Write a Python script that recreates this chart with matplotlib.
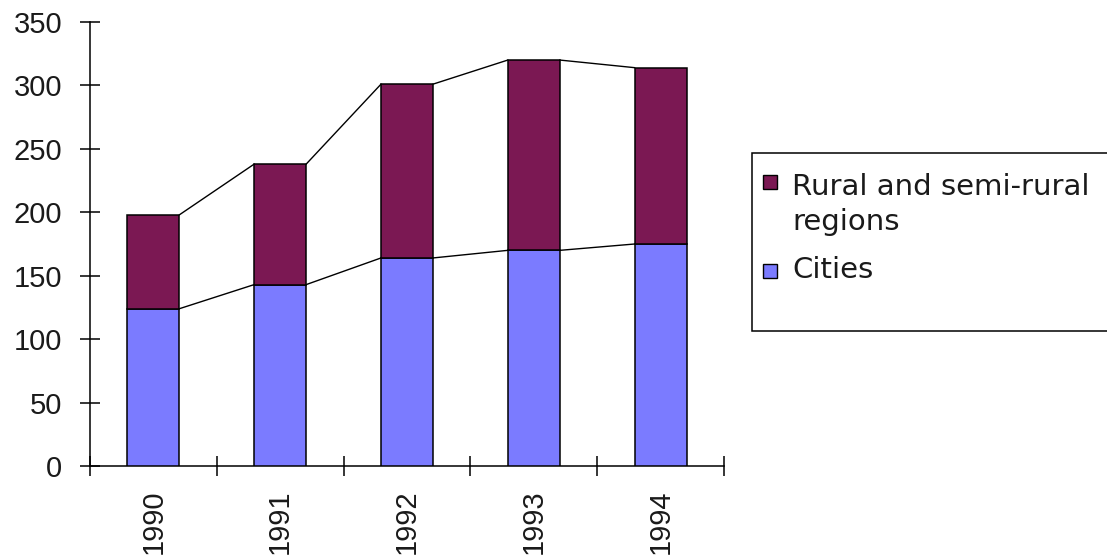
import matplotlib
matplotlib.use("Agg")
import matplotlib.pyplot as plt
from matplotlib.patches import Rectangle
import numpy as np

# Data
years = ["1990", "1991", "1992", "1993", "1994"]
cities = [124, 143, 164, 170, 175]
rural = [74, 95, 137, 150, 139]
series_labels = ["Rural and semi-rural\nregions", "Cities"]

rural_color = "#7b1853"
cities_color = "#7b7bff"
text_color = "#1a1a1a"

W, H = 1107, 558
fig = plt.figure(figsize=(W / 100, H / 100), dpi=100)
ax = fig.add_axes([90 / W, (H - 466) / H, (724 - 90) / W, (466 - 22) / H])

x = np.arange(len(years))
bw = 0.41
cities_arr = np.array(cities)
rural_arr = np.array(rural)
totals = cities_arr + rural_arr

ax.bar(x, cities_arr, width=bw, color=cities_color, edgecolor="black",
       linewidth=1.1, zorder=3)
ax.bar(x, rural_arr, width=bw, bottom=cities_arr, color=rural_color,
       edgecolor="black", linewidth=1.1, zorder=3)

# Series lines joining the tops of adjacent stacked segments
for level in (cities_arr, totals):
    for i in range(len(x) - 1):
        ax.plot([x[i] + bw / 2, x[i + 1] - bw / 2], [level[i], level[i + 1]],
                color="black", linewidth=1.0, zorder=2)

ax.set_xlim(-0.5, len(years) - 0.5)
ax.set_ylim(0, 350)

for side in ("top", "right"):
    ax.spines[side].set_visible(False)
for side in ("left", "bottom"):
    ax.spines[side].set_linewidth(1.1)
    ax.spines[side].set_color("black")

ax.set_yticks(np.arange(0, 351, 50))
ax.tick_params(axis="y", direction="inout", length=14.4, width=1.1,
               pad=12.8, labelsize=21, labelcolor=text_color)
for lbl in ax.get_yticklabels():
    lbl.set_fontfamily("Liberation Sans")

# Category boundaries carry the tick marks, centers carry the labels
ax.set_xticks(np.arange(-0.5, len(years), 1.0))
ax.set_xticklabels([])
ax.tick_params(axis="x", which="major", direction="inout", length=14.4,
               width=1.1)
ax.set_xticks(x, minor=True)
ax.set_xticklabels(years, minor=True, rotation=90, fontsize=21,
                   fontfamily="Liberation Sans", color=text_color)
ax.tick_params(axis="x", which="minor", length=0, pad=17)

# Legend box
fig.patches.append(Rectangle((752 / W, (H - 331) / H), 400 / W, 178 / H,
                             transform=fig.transFigure, facecolor="white",
                             edgecolor="black", linewidth=1.1))
sq_w, sq_h = 14 / W, 14 / H
fig.patches.append(Rectangle((763 / W, (H - 189) / H), sq_w, sq_h,
                             transform=fig.transFigure, facecolor=rural_color,
                             edgecolor="black", linewidth=1.0))
fig.patches.append(Rectangle((763 / W, (H - 278) / H), sq_w, sq_h,
                             transform=fig.transFigure, facecolor=cities_color,
                             edgecolor="black", linewidth=1.0))
# Two-line label: baseline alignment follows its last line
fig.text(792 / W, (H - 230) / H, series_labels[0], fontsize=21,
         fontfamily="DejaVu Sans", color=text_color, va="baseline",
         ha="left", linespacing=1.3)
fig.text(792 / W, (H - 278) / H, series_labels[1], fontsize=21,
         fontfamily="DejaVu Sans", color=text_color, va="baseline",
         ha="left")

fig.savefig("out.png", dpi=100)
